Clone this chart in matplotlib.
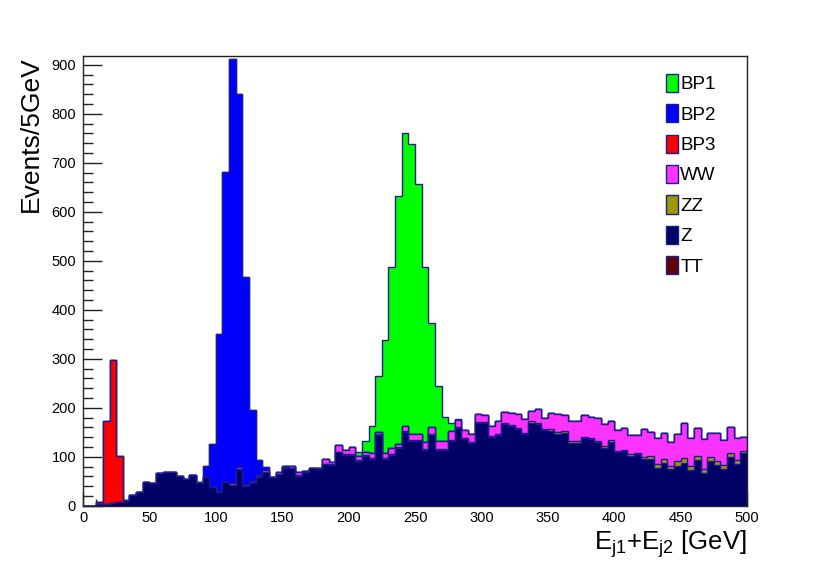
import numpy as np
import matplotlib.pyplot as plt
from matplotlib.patches import Patch
from matplotlib.ticker import MultipleLocator

plt.rcParams['font.family'] = ['Liberation Sans', 'DejaVu Sans']
plt.rcParams['mathtext.fontset'] = 'custom'
plt.rcParams['mathtext.rm'] = 'Liberation Sans'

# binning: 5 GeV bins from 0 to 500
bin_edges = np.arange(0, 505, 5)

# backgrounds, events per bin
z_bkg = [0, 0, 3, 4, 6, 8, 10, 23, 28, 49, 47, 68, 70, 69, 62, 54, 64, 47, 59, 39,
         29, 48, 42, 75, 41, 47, 59, 69, 58, 65, 78, 77, 62, 70, 77, 76, 85, 84, 109, 104,
         104, 91, 101, 96, 144, 96, 103, 119, 151, 133, 132, 115, 144, 115, 115, 132, 159, 136, 128, 169,
         169, 140, 145, 167, 164, 157, 147, 169, 167, 154, 153, 147, 149, 129, 129, 138, 136, 130, 119, 130,
         110, 111, 102, 105, 95, 96, 78, 87, 75, 82, 88, 73, 93, 68, 92, 83, 76, 100, 86, 108]
zz_bkg = [0, 0, 0, 0, 0, 0, 0, 0, 0, 0, 0, 0, 0, 0, 0, 0, 0, 0, 0, 0,
          1, 1, 1, 1, 1, 1, 1, 1, 1, 1, 1, 1, 1, 1, 1, 1, 1, 1, 1, 1,
          2, 2, 2, 2, 2, 2, 2, 2, 2, 2, 2, 2, 2, 2, 2, 2, 2, 2, 2, 2,
          2, 2, 2, 2, 2, 2, 2, 4, 3, 3, 4, 3, 3, 3, 3, 3, 3, 3, 3, 4,
          3, 3, 3, 3, 5, 5, 7, 8, 7, 9, 9, 9, 9, 7, 8, 8, 7, 7, 7, 4]
ww_bkg = [0, 0, 0, 0, 0, 0, 0, 0, 0, 0, 0, 0, 0, 0, 0, 0, 0, 0, 0, 0,
          0, 0, 3, 3, 0, 2, 3, 3, 0, 4, 2, 3, 6, 0, 0, 1, 10, 5, 15, 10,
          14, 8, 6, 10, 4, 10, 13, 6, 10, 11, 13, 14, 15, 16, 15, 19, 15, 16, 17, 17,
          14, 22, 26, 22, 23, 29, 29, 20, 28, 23, 32, 38, 33, 42, 41, 45, 42, 47, 45, 40,
          41, 45, 40, 37, 56, 50, 54, 53, 48, 55, 73, 57, 57, 62, 48, 58, 51, 54, 46, 28]
tt_bkg = [0] * 100

# signals: first bin low edge (GeV) and the bin contents from there on
bp3_start = 10
bp3_vals = [4, 170, 292, 93, 3]
bp2_start = 85
bp2_vals = [2, 22, 88, 321, 633, 865, 761, 425, 145, 31, 6]
bp1_start = 205
bp1_vals = [9, 23, 55, 115, 231, 370, 505, 598, 593, 510, 357, 213, 111, 49, 16, 1]


def fill_signal(start, vals):
    h = np.zeros(len(bin_edges) - 1)
    i0 = int(np.searchsorted(bin_edges, start))
    h[i0:i0 + len(vals)] = vals
    return h


bp1 = fill_signal(bp1_start, bp1_vals)
bp2 = fill_signal(bp2_start, bp2_vals)
bp3 = fill_signal(bp3_start, bp3_vals)

# stack order, bottom to top
layers = [
    ('TT', np.array(tt_bkg, float), '#660000'),
    ('Z', np.array(z_bkg, float), '#000066'),
    ('ZZ', np.array(zz_bkg, float), '#999900'),
    ('WW', np.array(ww_bkg, float), '#ff33ff'),
    ('BP3', bp3, '#ff0000'),
    ('BP2', bp2, '#0000ff'),
    ('BP1', bp1, '#00ff00'),
]
line_col = '#1c1c8c'

fig = plt.figure(figsize=(8.3, 5.64), dpi=100)
ax = fig.add_axes([0.1, 0.103, 0.8, 0.797])

cum = np.cumsum([l[1] for l in layers], axis=0)
# draw from the top of the stack down, like THStack
for i in range(len(layers) - 1, -1, -1):
    ax.stairs(cum[i], bin_edges, fill=True, color=layers[i][2], lw=0, zorder=2)
    ax.stairs(cum[i], bin_edges, color=line_col, lw=1.0, zorder=2)

ax.set_xlim(0, 500)
ax.set_ylim(0, 917)

ax.xaxis.set_major_locator(MultipleLocator(50))
ax.xaxis.set_minor_locator(MultipleLocator(10))
ax.yaxis.set_major_locator(MultipleLocator(100))
ax.yaxis.set_minor_locator(MultipleLocator(20))
ax.tick_params(axis='both', which='both', direction='in', top=False, right=False,
               labelsize=10.5, width=1, color='#222222')
ax.tick_params(axis='y', which='major', length=14, pad=5)
ax.tick_params(axis='y', which='minor', length=7)
ax.tick_params(axis='x', which='major', length=10, pad=4)
ax.tick_params(axis='x', which='minor', length=5)
for sp in ax.spines.values():
    sp.set_linewidth(1)
    sp.set_color('#222222')
    sp.set_zorder(5)

ax.set_ylabel('Events/5GeV', fontsize=19, loc='top', labelpad=6)
ax.set_xlabel(r'E$_{\mathrm{j1}}$+E$_{\mathrm{j2}}$ [GeV]', fontsize=18.5, loc='right', labelpad=2)

handles = [Patch(facecolor=c, edgecolor=line_col, lw=1, label=name)
           for name, _, c in layers[::-1]]
leg = ax.legend(handles=handles, loc='upper left', bbox_to_anchor=(0.8024, 0.869),
                bbox_transform=fig.transFigure, frameon=False, fontsize=13.5,
                handlelength=0.64, handleheight=1.12, handletextpad=0.12,
                labelspacing=0.58, borderpad=0, borderaxespad=0)

plt.savefig('out.png', dpi=100)
